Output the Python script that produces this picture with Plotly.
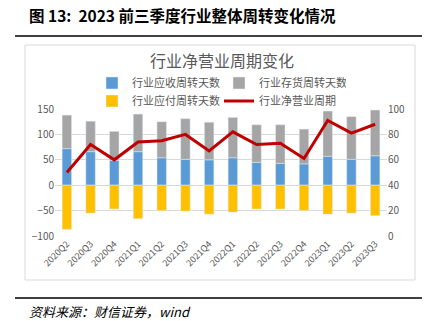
import plotly.graph_objects as go

categories = ["2020Q2","2020Q3","2020Q4","2021Q1","2021Q2","2021Q3","2021Q4",
              "2022Q1","2022Q2","2022Q3","2022Q4","2023Q1","2023Q2","2023Q3"]
receivable = [72, 66, 49, 66, 54, 51, 50, 54, 45, 43, 42, 57, 51, 58]
inventory = [66, 60, 57, 74, 71, 80, 74, 79.5, 74, 76, 68.5, 89, 84, 90]
payable = [-87, -55, -47, -66, -50, -51, -57, -53, -47, -47, -50, -57, -55, -60]
net_cycle = [50, 72, 60, 74, 75, 80, 67, 82, 72, 73, 61, 91, 81, 88]

left_ticks = [-100, -50, 0, 50, 100, 150]
right_ticks = [0, 20, 40, 60, 80, 100]

W, H = 431, 321
PL, PR, PT, PB = 55, 387, 109, 236  # plot area in pixels

def px(x):
    return (x - PL) / (PR - PL)

def py(y):
    return (PB - y) / (PB - PT)

GRAY = "#595959"
fig = go.Figure()
fig.add_trace(go.Bar(x=categories, y=receivable, name="行业应收周转天数",
                     marker_color="#5B9BD5", legend="legend"))
fig.add_trace(go.Bar(x=categories, y=inventory, name="行业存货周转天数",
                     marker_color="#A5A5A5", legend="legend"))
fig.add_trace(go.Bar(x=categories, y=payable, name="行业应付周转天数",
                     marker_color="#FFC000", legend="legend2"))
fig.add_trace(go.Scatter(x=categories, y=net_cycle, name="行业净营业周期",
                         mode="lines", line=dict(color="#C00000", width=3),
                         yaxis="y2", legend="legend2"))

legend_common = dict(orientation="h", xanchor="left", yanchor="middle",
                     font=dict(size=11, color=GRAY, family="Noto Sans CJK SC"),
                     bgcolor="rgba(0,0,0,0)", entrywidth=82, itemwidth=30,
                     tracegroupgap=0)

fig.update_layout(
    width=W, height=H,
    margin=dict(l=PL, r=W - PR, t=PT, b=H - PB),
    paper_bgcolor="white", plot_bgcolor="white",
    barmode="relative", bargap=0.6,
    font=dict(family="Noto Sans CJK SC", color=GRAY),
    showlegend=True,
    legend=dict(x=px(92), y=py(83), **legend_common),
    legend2=dict(x=px(92), y=py(101), **legend_common),
    xaxis=dict(tickangle=-45, tickfont=dict(size=9, color=GRAY),
               showgrid=False, showline=False, ticks=""),
    yaxis=dict(range=[-100, 150], tickvals=left_ticks, showgrid=True,
               gridcolor="#D9D9D9", gridwidth=1, zeroline=False,
               tickfont=dict(size=10, color=GRAY), ticks="", showline=False),
    yaxis2=dict(range=[0, 100], tickvals=right_ticks, overlaying="y", side="right",
                showgrid=False, zeroline=False, tickfont=dict(size=10, color=GRAY),
                ticks="", showline=False),
)

# chart frame
fig.add_shape(type="rect", xref="paper", yref="paper",
              x0=px(25), x1=px(415), y0=py(280), y1=py(45),
              line=dict(color="#D9D9D9", width=1), layer="below")
# report rules
for yy in (36, 298):
    fig.add_shape(type="line", xref="paper", yref="paper",
                  x0=px(15), x1=px(422), y0=py(yy), y1=py(yy),
                  line=dict(color="black", width=1.5))

fig.add_annotation(text="<b>图 13:  2023 前三季度行业整体周转变化情况</b>",
                   xref="paper", yref="paper", x=px(27), y=py(15),
                   xanchor="left", yanchor="middle", showarrow=False,
                   font=dict(size=15.5, color="black", family="Noto Sans CJK SC"))
fig.add_annotation(text="行业净营业周期变化", xref="paper", yref="paper",
                   x=px(222), y=py(60), xanchor="center", yanchor="middle",
                   showarrow=False, font=dict(size=16, color=GRAY))
fig.add_annotation(text="<i>资料来源：财信证券，wind</i>", xref="paper", yref="paper",
                   x=px(27), y=py(311), xanchor="left", yanchor="middle",
                   showarrow=False,
                   font=dict(size=13, color="black", family="Noto Sans CJK SC"))

fig.write_html("out.html")
